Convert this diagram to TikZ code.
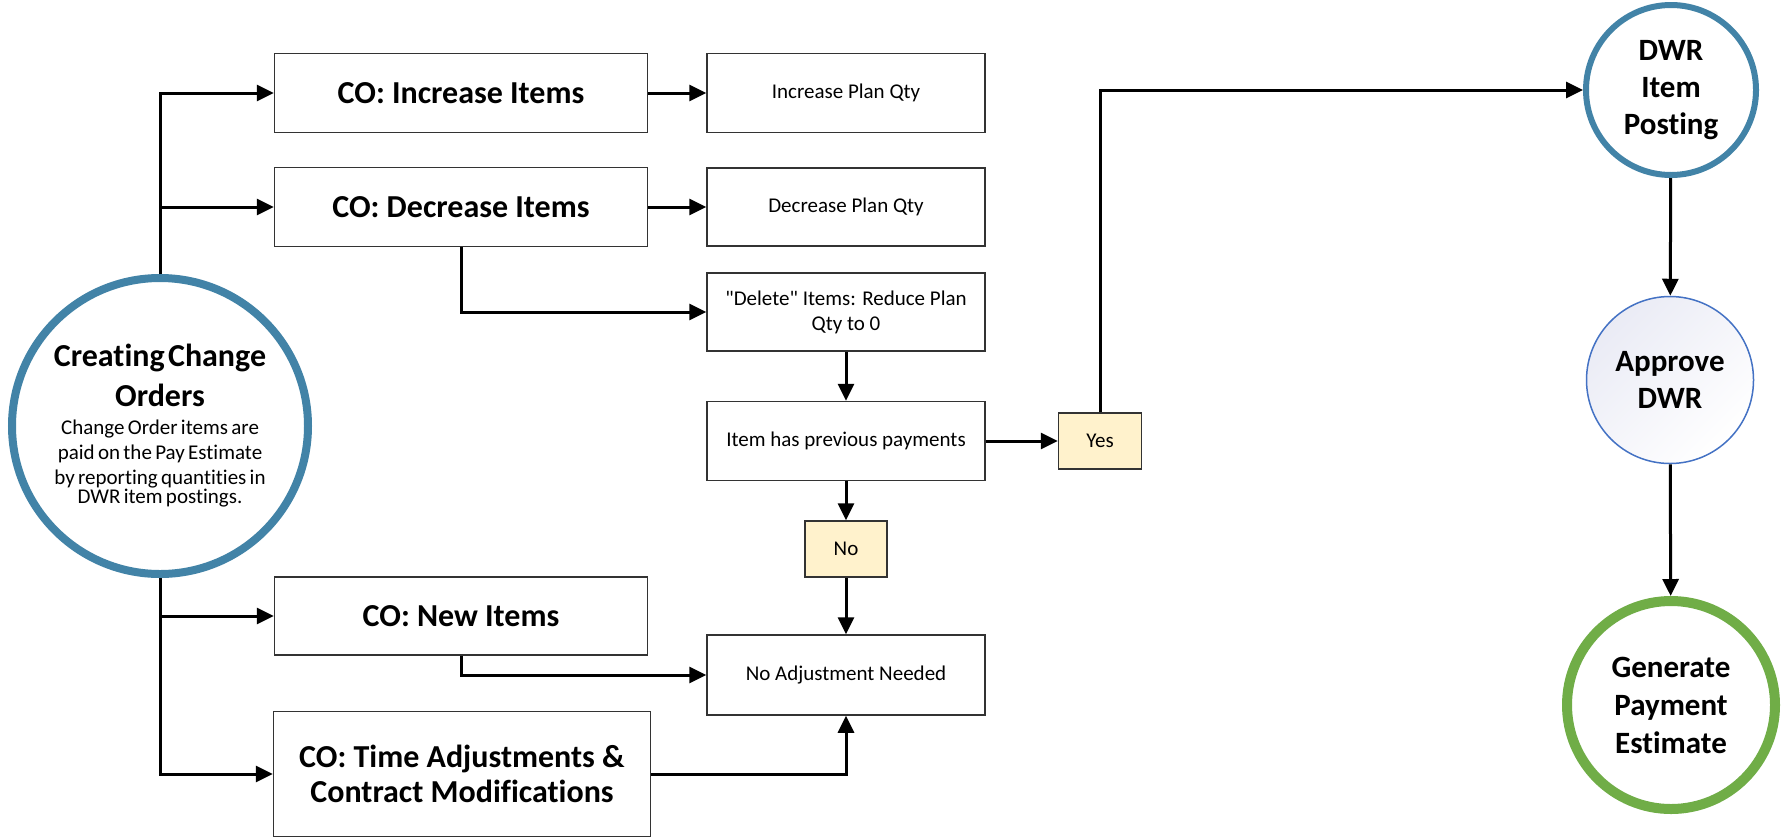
\documentclass[tikz,border=0pt]{standalone}
\usepackage{fontspec}
\setmainfont{Carlito}[Ligatures={NoCommon}]
\usepackage{xcolor}
\usepackage{tikz}
\usetikzlibrary{arrows.meta}

\definecolor{ringblue}{RGB}{66,131,167}
\definecolor{ringgreen}{RGB}{112,173,71}
\definecolor{thinblue}{RGB}{68,114,196}
\definecolor{paleblue}{RGB}{234,235,245}
\definecolor{answerfill}{RGB}{255,242,204}

\tikzset{
  cobox/.style={rectangle, draw=black!80, line width=1.5pt, fill=white, align=center, inner sep=0pt, minimum width=373pt, minimum height=79pt, font=\fontsize{32}{35}\selectfont\bfseries},
  stepbox/.style={rectangle, draw=black!80, line width=1.5pt, fill=white, align=center, inner sep=0pt, minimum width=278pt, minimum height=79pt, font=\fontsize{21}{25}\selectfont},
  answer/.style={rectangle, draw=black!80, line width=1.5pt, fill=answerfill, inner sep=0pt, minimum width=83pt, minimum height=56pt, font=\fontsize{21}{25}\selectfont},
  bubble/.style={circle, inner sep=0pt, align=center, fill=white, font=\fontsize{31}{37}\selectfont\bfseries},
  flow/.style={-{Triangle[length=17pt,width=16pt]}, line width=3pt}
}

\begin{document}
\begin{tikzpicture}[x=1pt, y=-1pt]
\useasboundingbox (0,0) rectangle (1784,839);

% start of the change order
\node[circle, draw=ringblue, line width=8pt, fill=white, minimum size=296pt, inner sep=0pt, text width=238pt, align=center] (start) at (160,426)
  {{\fontsize{32}{40}\selectfont\bfseries Creating Change\\Orders\par}\vspace{3pt}\fontsize{21}{25}\selectfont Change Order items are\\paid on the Pay Estimate\\by reporting quantities in\\DWR item postings.};

% change order types
\node[cobox] (inc) at (461,93) {CO: Increase Items};
\node[cobox] (dec) at (461,207) {CO: Decrease Items};
\node[cobox, minimum height=78pt] (new) at (461,616) {CO: New Items};
\node[cobox, minimum width=377pt, minimum height=125pt] (time) at (462,774) {CO: Time Adjustments \&\\Contract Modifications};

% plan quantity steps
\node[stepbox] (incplan) at (846,93) {Increase Plan Qty};
\node[stepbox, minimum height=78pt] (decplan) at (846,207) {Decrease Plan Qty};
\node[stepbox, minimum height=78pt] (delete) at (846,312) {\textquotedbl Delete\textquotedbl{} Items: Reduce Plan\\Qty to 0};
\node[stepbox] (prev) at (846,441) {Item has previous payments};
\node[answer, minimum width=82pt] (no) at (846,549) {No};
\node[answer] (yes) at (1100,441) {Yes};
\node[stepbox, minimum height=80pt] (noadj) at (846,675) {No Adjustment Needed};

% DWR and payment
\node[bubble, draw=ringblue, line width=6pt, minimum size=170pt] (dwr) at (1671,90) {DWR\\Item\\Posting};
\node[bubble, draw=thinblue, line width=1.5pt, minimum size=167pt, top color=paleblue, bottom color=white, shading angle=45] (approve) at (1670,380) {Approve\\DWR};
\node[bubble, draw=ringgreen, line width=10pt, minimum size=208pt, font=\fontsize{31}{38}\selectfont\bfseries] (gen) at (1671,705) {Generate\\Payment\\Estimate};

\draw[flow] (start.north) |- (inc.west);
\draw[flow] (start.north) |- (dec.west);
\draw[flow] (start.south) |- (new.west);
\draw[flow] (start.south) |- (time.west);
\draw[flow] (inc) -- (incplan);
\draw[flow] (dec) -- (decplan);
\draw[flow] (dec.south) |- (delete.west);
\draw[flow] (delete) -- (prev);
\draw[flow] (prev) -- (yes);
\draw[flow] (prev) -- (no);
\draw[flow] (no) -- (noadj);
\draw[flow] (new.south) |- (noadj.west);
\draw[flow] (time.east) -| (noadj.south);
\draw[flow] (yes.north) |- (dwr.west);
\draw[flow] (dwr) -- (approve);
\draw[flow] (approve) -- (gen);
\end{tikzpicture}
\end{document}
